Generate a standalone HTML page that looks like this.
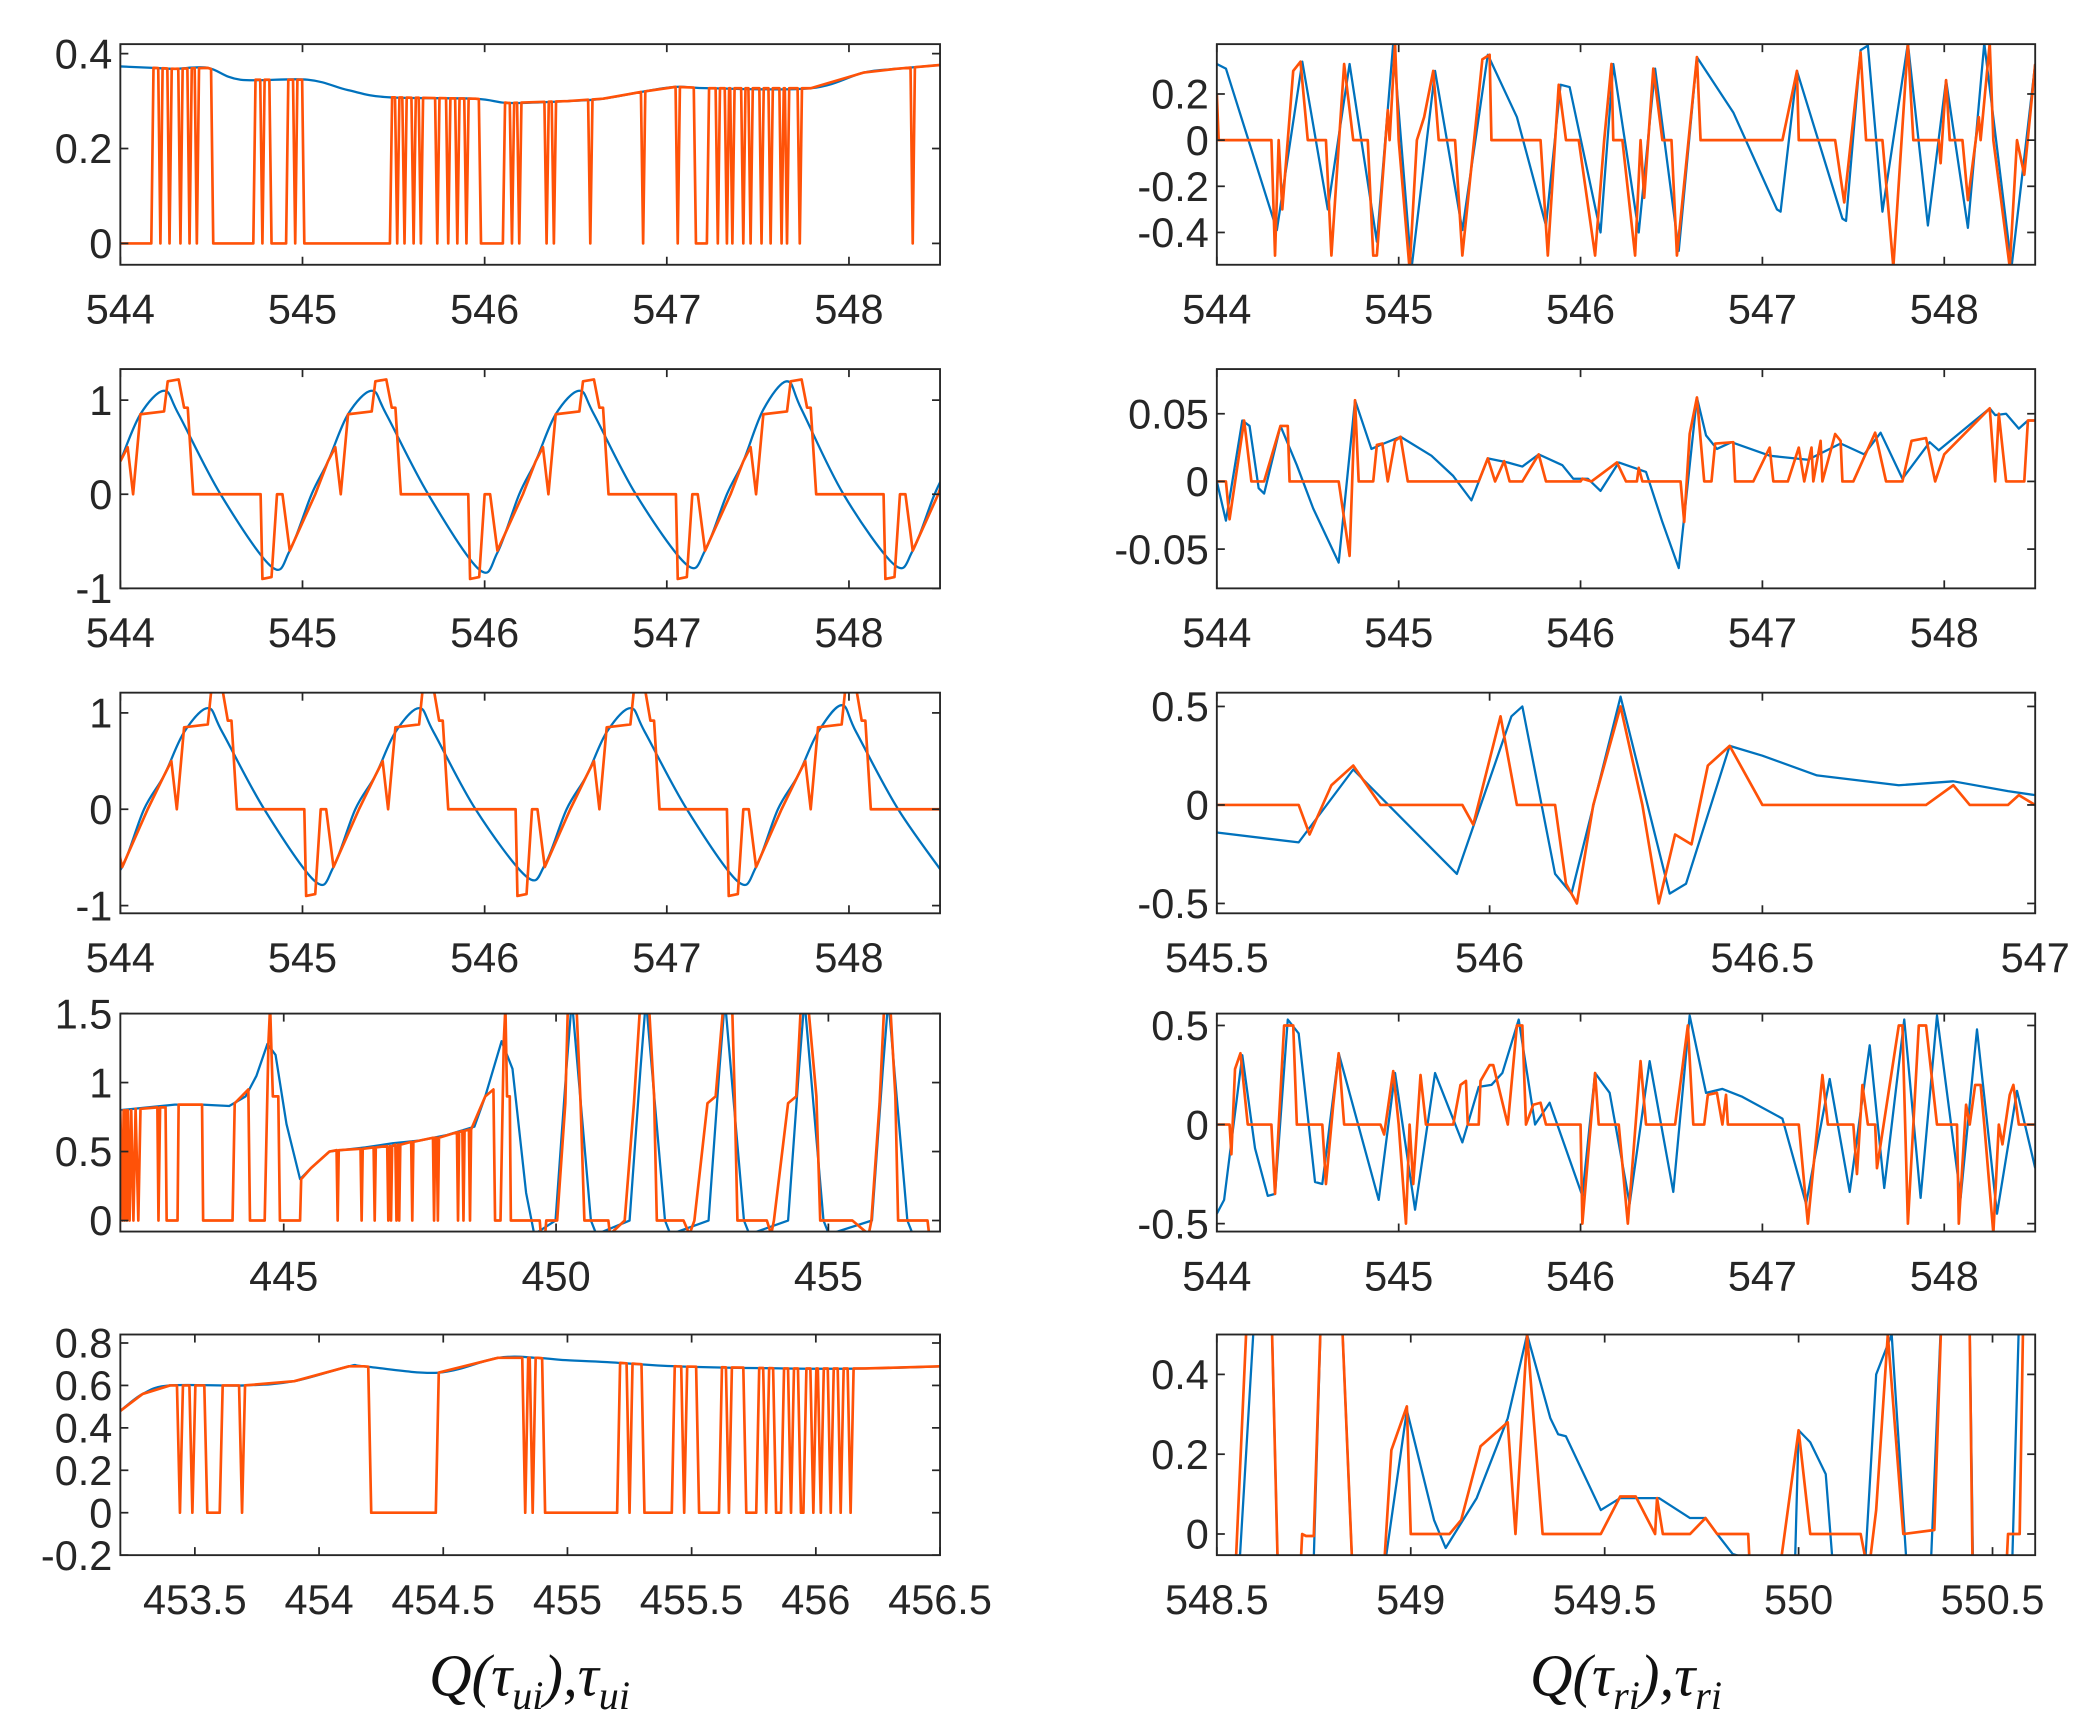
<!DOCTYPE html>
<html><head><meta charset="utf-8">
<style>
html,body{margin:0;padding:0;background:#fff;}
svg{display:block;}
text{font-family:"Liberation Sans",Arial,sans-serif;fill:#262626;}
.xl{font-family:"Liberation Serif","DejaVu Serif",serif;font-style:italic;font-size:44px;fill:#111;}
</style></head>
<body>
<svg id="fig" width="2086" height="1733" viewBox="0 0 1560 1296" xmlns="http://www.w3.org/2000/svg">
<text class="xl" x="396" y="1268" text-anchor="middle">Q(τ<tspan font-size="30" dy="10">ui</tspan><tspan dy="-10">),τ</tspan><tspan font-size="30" dy="10">ui</tspan></text>
<text class="xl" x="1216" y="1268" text-anchor="middle">Q(τ<tspan font-size="30" dy="10">ri</tspan><tspan dy="-10">),τ</tspan><tspan font-size="30" dy="10">ri</tspan></text>
</svg>
<script>
// ---------- Panel L1 ----------
const l1BlueX=[544,544.18,544.3,544.48,544.66,545.03,545.25,545.47,545.95,546.13,546.46,546.65,546.87,547.05,547.24,547.79,548.08,548.26,548.5];
const l1BlueY=[0.373,0.37,0.368,0.37,0.345,0.345,0.323,0.308,0.305,0.296,0.3,0.305,0.32,0.33,0.327,0.327,0.36,0.368,0.376];
const l1DipStart=[543.99,544.22,544.27,544.33,544.38,544.42,544.51,544.78,544.83,544.96,545.01,545.52,545.56,545.61,545.65,545.74,545.8,545.85,545.9,545.98,546.15,546.19,546.34,546.38,546.58,546.87,547.06,547.16,547.28,547.33,547.36,547.42,547.46,547.52,547.57,547.63,547.66,547.73,548.35];
const l1DipEnd  =[544.17,544.22,544.27,544.33,544.38,544.42,544.73,544.78,544.91,544.96,545.48,545.52,545.56,545.61,545.65,545.74,545.8,545.85,545.9,546.1,546.15,546.19,546.34,546.38,546.58,546.87,547.06,547.22,547.28,547.33,547.36,547.42,547.46,547.52,547.57,547.63,547.66,547.73,548.35];
// ---------- Panel L2 ----------
const l2BlueX=[544,544.11,544.24,544.32,544.55,544.83,544.93,545.05,545.14,545.25,545.38,545.46,545.69,545.97,546.07,546.19,546.28,546.39,546.52,546.6,546.83,547.11,547.21,547.33,547.42,547.53,547.66,547.74,547.97,548.25,548.35,548.47,548.56];
const l2BlueY=[0.35,0.85,1.1,0.85,0,-0.77,-0.6,0,0.35,0.85,1.1,0.85,0,-0.8,-0.62,0,0.35,0.85,1.1,0.85,0,-0.75,-0.6,0,0.35,0.9,1.2,0.9,0,-0.75,-0.6,0,0.35];
const l2OrX=[544,544.04,544.07,544.11,544.24,544.26,544.32,544.35,544.37,544.40,544.77,544.78,544.83,544.86,544.89,544.93,545.07,
545.14,545.18,545.21,545.25,545.38,545.40,545.46,545.49,545.51,545.54,545.91,545.92,545.97,546.00,546.03,546.07,546.21,
546.28,546.32,546.35,546.39,546.52,546.54,546.60,546.63,546.65,546.68,547.05,547.06,547.11,547.14,547.17,547.21,547.35,
547.42,547.46,547.49,547.53,547.66,547.68,547.74,547.77,547.79,547.82,548.19,548.20,548.25,548.28,548.31,548.35,548.49,548.56];
const l2OrY=[0.35,0.5,0,0.85,0.88,1.2,1.22,0.92,0.92,0,0,-0.9,-0.88,0,0,-0.6,0,
0.35,0.5,0,0.85,0.88,1.2,1.22,0.92,0.92,0,0,-0.9,-0.88,0,0,-0.6,0,
0.35,0.5,0,0.85,0.88,1.2,1.22,0.92,0.92,0,0,-0.9,-0.88,0,0,-0.6,0,
0.35,0.5,0,0.85,0.88,1.2,1.22,0.92,0.92,0,0,-0.9,-0.88,0,0,-0.6,0,0.4];
// ---------- Panel L3 ----------
const l3BlueX=[543.91,544.01,544.13,544.24,544.35,544.48,544.56,544.79,545.07,545.17,545.29,545.40,545.51,545.64,545.72,545.95,546.23,546.33,546.45,546.56,546.67,546.80,546.88,547.11,547.39,547.49,547.61,547.72,547.83,547.96,548.04,548.27,548.55];
const l3BlueY=[-0.72,-0.6,0,0.35,0.8,1.05,0.8,0,-0.75,-0.6,0,0.35,0.8,1.05,0.8,0,-0.7,-0.58,0,0.35,0.8,1.05,0.8,0,-0.75,-0.6,0,0.35,0.8,1.08,0.8,0,-0.75];
const l3OrX=[543.94,544.01,544.15,
544.24,544.28,544.31,544.35,544.48,544.50,544.56,544.59,544.61,544.64,545.01,545.02,545.07,545.10,545.13,545.17,545.31,
545.40,545.44,545.47,545.51,545.64,545.66,545.72,545.75,545.77,545.80,546.17,546.18,546.23,546.26,546.29,546.33,546.47,
546.56,546.60,546.63,546.67,546.80,546.82,546.88,546.91,546.93,546.96,547.33,547.34,547.39,547.42,547.45,547.49,547.63,
547.72,547.76,547.79,547.83,547.96,547.98,548.04,548.07,548.09,548.12,548.56];
const l3OrY=[0,-0.6,0,
0.35,0.5,0,0.85,0.88,1.25,1.25,0.92,0.92,0,0,-0.9,-0.88,0,0,-0.6,0,
0.35,0.5,0,0.85,0.88,1.25,1.25,0.92,0.92,0,0,-0.9,-0.88,0,0,-0.6,0,
0.35,0.5,0,0.85,0.88,1.25,1.25,0.92,0.92,0,0,-0.9,-0.88,0,0,-0.6,0,
0.35,0.5,0,0.85,0.88,1.25,1.25,0.92,0.92,0,0];
// ---------- Panel L4 ----------
const l4BlueX=[442,442.5,443,443.5,444,444.3,444.5,444.7,444.85,445.05,445.3,445.5,445.84,446.5,447,447.5,448,448.5,448.7,449.0,449.2,449.45,449.6,
449.99,450.19,450.29,450.64,450.74,451.35,451.55,451.65,452.0,452.1,452.8,453.0,453.1,453.45,453.55,454.26,454.46,454.56,454.91,455.01,455.8,456.0,456.1,456.45,456.55];
const l4BlueY=[0.8,0.82,0.84,0.84,0.83,0.9,1.05,1.28,1.2,0.7,0.3,0.38,0.5,0.53,0.56,0.58,0.62,0.68,0.9,1.3,1.1,0.2,-0.1,
0,1.1,1.6,0,-0.1,0,1.1,1.6,0,-0.1,0,1.1,1.6,0,-0.1,0,1.1,1.6,0,-0.1,0,1.1,1.6,0,-0.1];
const l4OrX=[442,442.04,442.06,442.08,442.1,442.12,442.14,442.17,442.2,442.24,442.28,442.33,442.37,442.68,442.7,442.73,442.83,442.85,443.05,443.07,443.5,443.52,444.06,444.1,444.35,444.38,444.65,444.72,444.75,444.8,444.9,444.93,445.3,445.32,445.5,445.84,445.97,445.99,446.01,446.41,446.43,446.45,446.65,446.67,446.69,446.9,446.92,446.95,446.97,446.99,447.05,447.07,447.1,447.12,447.14,447.34,447.36,447.38,447.74,447.76,447.78,447.81,447.83,447.85,448.18,448.2,448.22,448.28,448.3,448.32,448.4,448.42,448.44,448.7,448.85,448.88,448.98,449.04,449.07,449.1,449.15,449.17,449.7,449.72,449.8,449.82,
450.02,450.17,450.22,450.37,450.45,450.52,450.96,450.99,451.26,451.43,451.55,451.7,451.8,451.85,452.34,452.45,452.54,452.78,452.93,453.08,453.23,453.28,453.33,453.87,453.95,454.0,454.26,454.41,454.5,454.62,454.78,454.85,455.44,455.74,455.79,455.94,456.03,456.13,456.23,456.28,456.82,456.85,457.05];
const l4OrY=[0.8,0,0.8,0,0.8,0,0.8,0,0.8,0,0.81,0,0.81,0.82,0,0.82,0.82,0,0,0.84,0.84,0,0,0.85,0.95,0,0,1.3,1.55,0.9,0.9,0,0,0.3,0.38,0.5,0.51,0,0.51,0.52,0,0.52,0.53,0,0.53,0.54,0,0.54,0,0.54,0.55,0,0.55,0,0.55,0.57,0,0.57,0.6,0,0.6,0.6,0,0.6,0.64,0,0.64,0.65,0,0.65,0.66,0,0.66,0.9,0.95,0,0,1.3,1.55,0.9,0.9,0,0,-0.1,-0.1,0,
0,0.85,1.6,1.6,0.85,0,0,-0.1,0,0.85,1.6,1.6,0.9,0,0,-0.1,0,0.85,0.9,1.6,1.6,0.9,0,0,-0.1,0,0.85,0.9,1.6,1.6,0.9,0,0,-0.1,0,0.85,1.6,1.6,0.9,0,0,-0.1,-0.1];
// ---------- Panel L5 ----------
const l5BlueX=[453.2,453.29,453.4,453.7,453.9,454.12,454.18,454.48,454.72,454.88,454.98,455.16,455.44,455.88,456.2,456.5];
const l5BlueY=[0.48,0.56,0.6,0.6,0.62,0.69,0.69,0.66,0.73,0.73,0.72,0.71,0.69,0.68,0.68,0.69];
const l5DipStart=[453.44,453.49,453.55,453.69,454.21,454.83,454.86,454.91,455.25,455.31,455.47,455.53,455.65,455.72,455.8,455.84,455.9,455.94,455.99,456.02,456.06,456.1,456.14];
const l5DipEnd  =[453.44,453.49,453.6,453.69,454.47,454.83,454.86,455.2,455.25,455.42,455.47,455.61,455.65,455.76,455.8,455.86,455.9,455.95,455.99,456.02,456.06,456.1,456.14];
// ---------- Panel R1 ----------
const r1BlueX=[544,544.05,544.33,544.47,544.61,544.73,544.88,544.97,545.07,545.2,545.35,545.49,545.65,545.81,545.89,545.94,546.11,546.18,546.32,546.41,546.54,546.64,546.84,547.08,547.1,547.19,547.44,547.46,547.54,547.58,547.66,547.8,547.91,548.01,548.13,548.22,548.37,548.5];
const r1BlueY=[0.33,0.31,-0.39,0.34,-0.3,0.33,-0.44,0.42,-0.56,0.3,-0.39,0.37,0.1,-0.37,0.24,0.23,-0.4,0.33,-0.4,0.31,-0.48,0.36,0.12,-0.3,-0.31,0.3,-0.34,-0.35,0.39,0.41,-0.31,0.42,-0.37,0.26,-0.38,0.42,-0.55,0.33];
const r1OrX=[544,544.01,544.3,544.32,544.34,544.36,544.42,544.46,544.5,544.6,544.63,544.7,544.75,544.83,544.86,544.88,544.94,544.95,544.98,545.0,545.06,545.1,545.14,545.19,545.22,545.31,545.35,545.46,545.5,545.51,545.78,545.82,545.88,545.92,545.99,546.08,546.13,546.17,546.18,546.23,546.3,546.33,546.35,546.4,546.45,546.5,546.53,546.64,546.66,547.11,547.19,547.2,547.4,547.45,547.54,547.57,547.66,547.72,547.8,547.83,547.97,547.98,548.01,548.03,548.1,548.13,548.19,548.2,548.25,548.27,548.36,548.4,548.44,548.5];
const r1OrY=[0.2,0,0,-0.5,0,-0.3,0.3,0.34,0,0,-0.5,0.33,0,0,-0.5,-0.5,0.13,0,0.42,0,-0.56,0,0.1,0.3,0,0,-0.5,0.35,0.37,0,0,-0.5,0.24,0,0,-0.5,0,0.33,0,0,-0.5,0,-0.25,0.31,0,0,-0.5,0.36,0,0,0.3,0,0,-0.27,0.38,0,0,-0.55,0.42,0,0,-0.1,0.26,0,0,-0.26,0.1,0,0.42,0,-0.55,0,-0.15,0.33];
// ---------- Panel R2 ----------
const r2BlueX=[544,544.05,544.14,544.18,544.23,544.26,544.35,544.44,544.53,544.67,544.76,544.85,544.9,545.01,545.18,545.3,545.4,545.49,545.6,545.68,545.77,545.9,545.96,546.04,546.11,546.21,546.36,546.45,546.54,546.64,546.69,546.75,546.83,547.04,547.25,547.43,547.56,547.65,547.77,547.92,547.97,548.15,548.25,548.28,548.34,548.41,548.46,548.5];
const r2BlueY=[0,-0.029,0.045,0.041,-0.005,-0.009,0.041,0.012,-0.02,-0.06,0.06,0.024,0.027,0.033,0.019,0.004,-0.014,0.017,0.014,0.011,0.02,0.012,0.002,0.002,-0.007,0.014,0.007,-0.03,-0.064,0.062,0.034,0.024,0.029,0.019,0.016,0.028,0.02,0.036,0.002,0.029,0.023,0.043,0.054,0.049,0.05,0.039,0.045,0.045];
const r2OrX=[544,544.05,544.07,544.15,544.19,544.26,544.35,544.39,544.4,544.67,544.73,544.76,544.78,544.86,544.88,544.91,544.94,544.98,545.01,545.05,545.44,545.49,545.53,545.58,545.61,545.68,545.77,545.81,546.0,546.01,546.06,546.2,546.25,546.31,546.32,546.34,546.55,546.57,546.6,546.64,546.68,546.72,546.74,546.84,546.85,546.95,547.04,547.06,547.14,547.2,547.23,547.27,547.28,547.32,547.33,547.4,547.43,547.44,547.5,547.62,547.68,547.77,547.82,547.9,547.95,548.0,548.25,548.28,548.3,548.34,548.44,548.46,548.5];
const r2OrY=[0,0,-0.028,0.045,0,0,0.041,0.041,0,0,-0.055,0.06,0,0,0.027,0.028,0,0.03,0.033,0,0,0.017,0,0.015,0,0,0.02,0,0,0.002,0,0.014,0,0,0.01,0,0,-0.03,0.035,0.062,0,0,0.028,0.029,0,0,0.025,0,0,0.025,0,0.025,0,0.03,0,0.035,0.03,0,0,0.036,0,0,0.03,0.032,0,0.02,0.054,0,0.05,0,0,0.045,0.045];
// ---------- Panel R3 ----------
const r3BlueX=[545.5,545.65,545.75,545.94,546.04,546.06,546.12,546.15,546.24,546.33,546.36,546.44,546.5,546.6,546.75,546.85,546.95,547];
const r3BlueY=[-0.14,-0.19,0.18,-0.35,0.45,0.5,-0.35,-0.45,0.55,-0.45,-0.4,0.3,0.25,0.15,0.1,0.12,0.07,0.05];
const r3OrX=[545.5,545.65,545.67,545.71,545.75,545.8,545.95,545.97,546.02,546.05,546.12,546.14,546.16,546.19,546.24,546.28,546.31,546.34,546.37,546.4,546.44,546.5,546.8,546.85,546.88,546.95,546.97,547];
const r3OrY=[0,0,-0.15,0.1,0.2,0,0,-0.1,0.45,0,0,-0.4,-0.5,0,0.5,0,-0.5,-0.15,-0.2,0.2,0.3,0,0,0.1,0,0,0.05,0];
// ---------- Panel R4 ----------
const r4BlueX=[544,544.04,544.14,544.21,544.28,544.32,544.39,544.45,544.54,544.58,544.67,544.89,544.98,545.09,545.2,545.35,545.44,545.51,545.57,545.66,545.75,545.83,546.01,546.08,546.16,546.27,546.38,546.51,546.6,546.69,546.78,546.89,547.11,547.24,547.37,547.48,547.59,547.67,547.78,547.87,547.96,548.09,548.18,548.29,548.4,548.5];
const r4BlueY=[-0.45,-0.38,0.35,-0.12,-0.36,-0.35,0.53,0.46,-0.29,-0.3,0.36,-0.38,0.26,-0.43,0.26,-0.09,0.19,0.2,0.26,0.53,0,0.11,-0.36,0.26,0.16,-0.4,0.32,-0.34,0.55,0.16,0.18,0.14,0.03,-0.4,0.23,-0.34,0.4,-0.32,0.53,-0.37,0.55,-0.37,0.48,-0.45,0.17,-0.22];
const r4OrX=[544,544.07,544.08,544.1,544.13,544.17,544.3,544.32,544.37,544.42,544.44,544.58,544.6,544.64,544.67,544.7,544.9,544.92,544.97,545.0,545.04,545.06,545.08,545.12,545.15,545.3,545.34,545.37,545.38,545.44,545.45,545.5,545.52,545.6,545.65,545.68,545.7,545.74,545.78,545.81,546.0,546.01,546.08,546.1,546.21,546.26,546.33,546.36,546.52,546.59,546.62,546.68,546.7,546.75,546.78,546.8,546.81,547.2,547.25,547.33,547.36,547.5,547.52,547.55,547.58,547.62,547.63,547.75,547.77,547.8,547.86,547.9,547.96,548.07,548.08,548.12,548.14,548.17,548.2,548.22,548.27,548.3,548.32,548.36,548.38,548.41,548.5];
const r4OrY=[0,0,-0.15,0.28,0.36,0,0,-0.35,0.5,0.5,0,0,-0.3,0.1,0.36,0,0,-0.05,0.27,0,-0.5,0,-0.3,0.25,0,0,0.2,0.22,0,0,0.22,0.3,0.3,0,0.5,0.5,0,0.1,0.11,0,0,-0.5,0.26,0,0,-0.5,0.32,0,0,0.5,0,0,0.15,0.16,0,0.15,0,0,-0.5,0.25,0,0,-0.25,0.2,0,0,-0.22,0.5,0.5,-0.5,0.5,0.5,0,0,-0.5,0.1,0,0.2,0.2,0,-0.55,0,-0.1,0.15,0.2,0,0];
// ---------- Panel R5 ----------
const r5BlueX=[548.5,548.56,548.6,548.64,548.66,548.75,548.77,548.82,548.85,548.93,548.99,549.06,549.09,549.17,549.25,549.3,549.36,549.38,549.4,549.49,549.54,549.64,549.72,549.76,549.79,549.83,549.99,550.0,550.03,550.07,550.09,550.17,550.2,550.24,550.28,550.34,550.37,550.44,550.45,550.55,550.57,550.62];
const r5BlueY=[-0.2,-0.05,0.6,0.6,-0.2,-0.06,0.6,0.6,-0.1,-0.1,0.31,0.035,-0.035,0.09,0.29,0.5,0.29,0.25,0.245,0.06,0.09,0.09,0.04,0.04,0,-0.05,-0.1,0.26,0.23,0.15,-0.1,-0.1,0.4,0.5,-0.1,-0.1,0.6,0.6,-0.1,-0.1,0.6,0.6];
const r5OrX=[548.5,548.55,548.58,548.64,548.66,548.71,548.72,548.73,548.75,548.77,548.82,548.85,548.93,548.95,548.99,549.0,549.1,549.13,549.18,549.25,549.27,549.3,549.34,549.49,549.54,549.58,549.63,549.635,549.65,549.72,549.76,549.79,549.87,549.875,549.95,550.0,550.03,550.16,550.18,550.2,550.23,550.27,550.35,550.37,550.44,550.45,550.53,550.54,550.57,550.58,550.62];
const r5OrY=[-0.2,-0.05,0.6,0.6,-0.2,-0.2,0,-0.005,-0.005,0.6,0.6,-0.1,-0.1,0.21,0.32,0,0,0.035,0.22,0.28,0,0.5,0,0,0.094,0.094,0,0.09,0,0,0.04,0,0,-0.1,-0.1,0.26,0,0,-0.1,0.06,0.5,0,0.01,0.6,0.6,-0.2,-0.2,0,0,0.6,0.6];

// ---------- Axis tick labels ----------
const xTicks544=[544,545,546,547,548];
const xTicksL4=[445,450,455];
const xTicksL5=[453.5,454,454.5,455,455.5,456,456.5];
const xTicksR3=[545.5,546,546.5,547];
const xTicksR5=[548.5,549,549.5,550,550.5];
const yTicksL1=[0,0.2,0.4];
const yTicksL23=[-1,0,1];
const yTicksL4=[0,0.5,1,1.5];
const yTicksL5=[-0.2,0,0.2,0.4,0.6,0.8];
const yTicksR1=[-0.4,-0.2,0,0.2];
const yTicksR2=[-0.05,0,0.05];
const yTicksR34=[-0.5,0,0.5];
const yTicksR5=[0,0.2,0.4];

const NS='http://www.w3.org/2000/svg';
const svg=document.getElementById('fig');
const BLUE='#0072BD', ORANGE='#FF5208';
function mk(tag,attrs,parent){const e=document.createElementNS(NS,tag);for(const k in attrs)e.setAttribute(k,attrs[k]);(parent||svg).appendChild(e);return e;}

function blueAt(xs,ys,x){if(x<=xs[0])return ys[0];for(let i=1;i<xs.length;i++){if(x<=xs[i]){const t=(x-xs[i-1])/(xs[i]-xs[i-1]);return ys[i-1]+t*(ys[i]-ys[i-1]);}}return ys[ys.length-1];}
function dipSeries(bx,by,ds,de){
  const w=0.012;const pts=[];
  for(let i=0;i<bx.length;i++){const x=bx[i];let inside=false;for(let j=0;j<ds.length;j++){if(x>=ds[j]-w&&x<=de[j]+w){inside=true;break;}}if(!inside)pts.push([x,by[i]]);}
  for(let j=0;j<ds.length;j++){pts.push([ds[j]-w,blueAt(bx,by,ds[j]-w)]);pts.push([ds[j],0]);if(de[j]>ds[j])pts.push([de[j],0]);pts.push([de[j]+w,blueAt(bx,by,de[j]+w)]);}
  pts.sort((a,b)=>a[0]-b[0]);return pts;
}
function zip(xs,ys){return xs.map((x,i)=>[x,ys[i]]);}

let pid=0;
function panel(name,box,xlim,ylim,xt,yt,series){
  const [x0,y0,x1,y1]=box;
  const sx=v=>x0+(v-xlim[0])/(xlim[1]-xlim[0])*(x1-x0);
  const sy=v=>y1-(v-ylim[0])/(ylim[1]-ylim[0])*(y1-y0);
  const g=mk('g',{});
  
  
  const cid='clip'+(pid++);
  const cp=mk('clipPath',{id:cid},g);
  mk('rect',{x:x0,y:y0,width:x1-x0,height:y1-y0},cp);
  const sg=mk('g',{'clip-path':'url(#'+cid+')'},g);
  series.forEach(s=>{
    let d='';
    if(s.smooth){
      const p=s.pts.map(q=>[sx(q[0]),sy(q[1])]);
      d='M'+p[0][0].toFixed(2)+','+p[0][1].toFixed(2);
      for(let i=0;i<p.length-1;i++){const a=p[Math.max(0,i-1)],b=p[i],c=p[i+1],e=p[Math.min(p.length-1,i+2)];
        const c1=[b[0]+(c[0]-a[0])/6,b[1]+(c[1]-a[1])/6],c2=[c[0]-(e[0]-b[0])/6,c[1]-(e[1]-b[1])/6];
        d+=' C'+c1[0].toFixed(2)+','+c1[1].toFixed(2)+' '+c2[0].toFixed(2)+','+c2[1].toFixed(2)+' '+c[0].toFixed(2)+','+c[1].toFixed(2);}
    } else {
      d=s.pts.map((q,i)=>(i?'L':'M')+sx(q[0]).toFixed(2)+','+sy(q[1]).toFixed(2)).join(' ');
    }
    const path=mk('path',{d:d,fill:'none',stroke:s.color,'stroke-width':s.w,'stroke-linejoin':'round'},sg);
    
    
  });
  const fr=mk('rect',{x:x0,y:y0,width:x1-x0,height:y1-y0,fill:'none',stroke:'#262626','stroke-width':1.4},g);
  
  
  const tl=6;
  xt.forEach(v=>{const X=sx(v);
    mk('line',{x1:X,y1:y1,x2:X,y2:y1-tl,stroke:'#262626','stroke-width':1.3},g);
    mk('line',{x1:X,y1:y0,x2:X,y2:y0+tl,stroke:'#262626','stroke-width':1.3},g);
    const t=mk('text',{x:X,y:y1+44,'text-anchor':'middle','font-size':31},g);
    
    
    t.textContent=String(v);});
  yt.forEach(v=>{const Y=sy(v);
    mk('line',{x1:x0,y1:Y,x2:x0+tl,y2:Y,stroke:'#262626','stroke-width':1.3},g);
    mk('line',{x1:x1,y1:Y,x2:x1-tl,y2:Y,stroke:'#262626','stroke-width':1.3},g);
    const t=mk('text',{x:x0-6,y:Y+11,'text-anchor':'end','font-size':31},g);
    
    
    t.textContent=String(v);});
}
const L=[90,703],R=[910,1522];
const rows=[[33,198],[276,440],[518,683],[758,921],[998,1163]];
const bx=(c,r)=>[c[0],rows[r][0],c[1],rows[r][1]];
const B=(pts,sm)=>({name:'blue-series',color:BLUE,w:1.7,pts:pts,smooth:!!sm});
const O=(pts)=>({name:'orange-series',color:ORANGE,w:2.0,pts:pts});

panel('panel-left-1',bx(L,0),[544,548.5],[-0.045,0.42],xTicks544,yTicksL1,[B(zip(l1BlueX,l1BlueY),true),O(dipSeries(l1BlueX,l1BlueY,l1DipStart,l1DipEnd))]);
panel('panel-left-2',bx(L,1),[544,548.5],[-1,1.33],xTicks544,yTicksL23,[B(zip(l2BlueX,l2BlueY),true),O(zip(l2OrX,l2OrY))]);
panel('panel-left-3',bx(L,2),[544,548.5],[-1.08,1.21],xTicks544,yTicksL23,[B(zip(l3BlueX,l3BlueY),true),O(zip(l3OrX,l3OrY))]);
panel('panel-left-4',bx(L,3),[442,457.05],[-0.08,1.5],xTicksL4,yTicksL4,[B(zip(l4BlueX,l4BlueY)),O(zip(l4OrX,l4OrY))]);
panel('panel-left-5',bx(L,4),[453.2,456.5],[-0.2,0.84],xTicksL5,yTicksL5,[B(zip(l5BlueX,l5BlueY),true),O(dipSeries(l5BlueX,l5BlueY,l5DipStart,l5DipEnd))]);
panel('panel-right-1',bx(R,0),[544,548.5],[-0.54,0.416],xTicks544,yTicksR1,[B(zip(r1BlueX,r1BlueY)),O(zip(r1OrX,r1OrY))]);
panel('panel-right-2',bx(R,1),[544,548.5],[-0.079,0.083],xTicks544,yTicksR2,[B(zip(r2BlueX,r2BlueY)),O(zip(r2OrX,r2OrY))]);
panel('panel-right-3',bx(R,2),[545.5,547],[-0.55,0.57],xTicksR3,yTicksR34,[B(zip(r3BlueX,r3BlueY)),O(zip(r3OrX,r3OrY))]);
panel('panel-right-4',bx(R,3),[544,548.5],[-0.54,0.56],xTicks544,yTicksR34,[B(zip(r4BlueX,r4BlueY)),O(zip(r4OrX,r4OrY))]);
panel('panel-right-5',bx(R,4),[548.5,550.61],[-0.053,0.5],xTicksR5,yTicksR5,[B(zip(r5BlueX,r5BlueY)),O(zip(r5OrX,r5OrY))]);
</script>
</body></html>
